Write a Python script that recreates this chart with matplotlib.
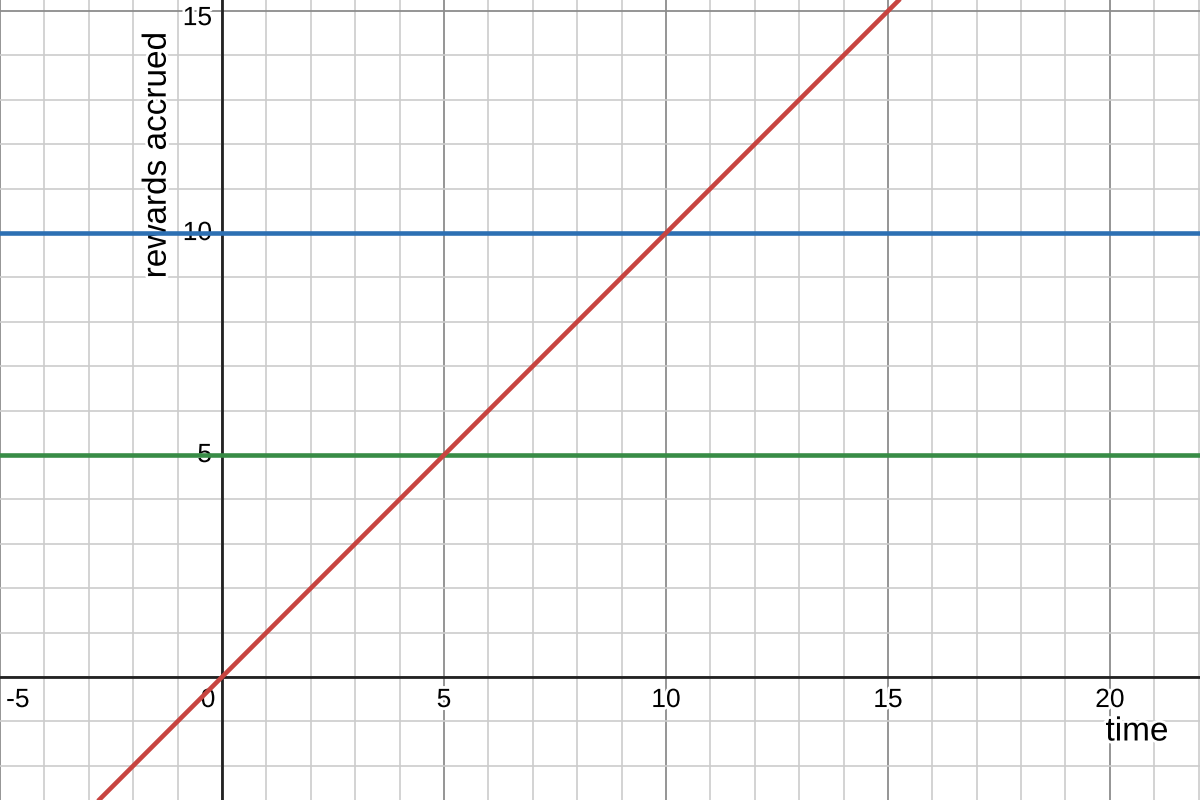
import matplotlib
matplotlib.use("Agg")
import matplotlib.pyplot as plt
import matplotlib.patheffects as pe
import numpy as np

plt.rcParams['font.family'] = ['Liberation Sans', 'DejaVu Sans']

x_range = [-5.0, 22.03]
y_range = [-2.77, 15.25]
x_tick_labels = [-5, 0, 5, 10, 15, 20]
y_tick_labels = [5, 10, 15]
red_x = [-5.0, 22.03]
red_y = [-5.0, 22.03]
blue_level = 10
green_level = 5
x_label = "time"
y_label = "rewards accrued"

fig = plt.figure(figsize=(12, 8), dpi=100)
ax = fig.add_axes([0, 0, 1, 1])
ax.set_xlim(*x_range)
ax.set_ylim(*y_range)
for s in ax.spines.values():
    s.set_visible(False)
ax.set_xticks([]); ax.set_yticks([])

# grid
for gx in range(-5, 23):
    major = gx % 5 == 0
    ax.axvline(gx, color='#8c8c8c' if major else '#cccccc', lw=1.3 if major else 1.2, zorder=1)
for gy in range(-2, 16):
    major = gy % 5 == 0
    ax.axhline(gy, color='#8c8c8c' if major else '#cccccc', lw=1.3 if major else 1.2, zorder=1)

stroke = [pe.withStroke(linewidth=4, foreground='white')]
for t in x_tick_labels:
    xpos = t
    ha = 'center'
    if t == 0:
        xpos = -0.15; ha = 'right'
    if t == -5:
        xpos = -4.6
    ax.annotate(str(t), (xpos, 0), xytext=(0, -23), textcoords='offset pixels',
                ha=ha, va='center', fontsize=19, color='black', zorder=3, path_effects=stroke)
for t in y_tick_labels:
    ypos = t
    if t == 15:
        ypos = 15 - 7 / 44.4
    ax.annotate(str(t), (0, ypos), xytext=(-10, 0), textcoords='offset pixels',
                ha='right', va='center', fontsize=19, color='black', zorder=3, path_effects=stroke)

ax.text(0.9475, 0.085, x_label, transform=ax.transAxes, ha='center', va='center',
        fontsize=24, color='black', zorder=3, path_effects=stroke)
ax.text(0.131, 0.806, y_label, transform=ax.transAxes, ha='center', va='center',
        rotation=90, fontsize=24, color='black', zorder=3, path_effects=stroke)

ax.axvline(0, color='#222222', lw=2, zorder=4)
ax.axhline(0, color='#222222', lw=2, zorder=4)

ax.plot(red_x, red_y, color='#c74440', lw=3.3, zorder=7, solid_capstyle='butt')
ax.axhline(blue_level, color='#2d70b3', lw=3.3, zorder=6)
ax.axhline(green_level, color='#388c46', lw=3.3, zorder=6)

fig.savefig("out.png", dpi=100)
